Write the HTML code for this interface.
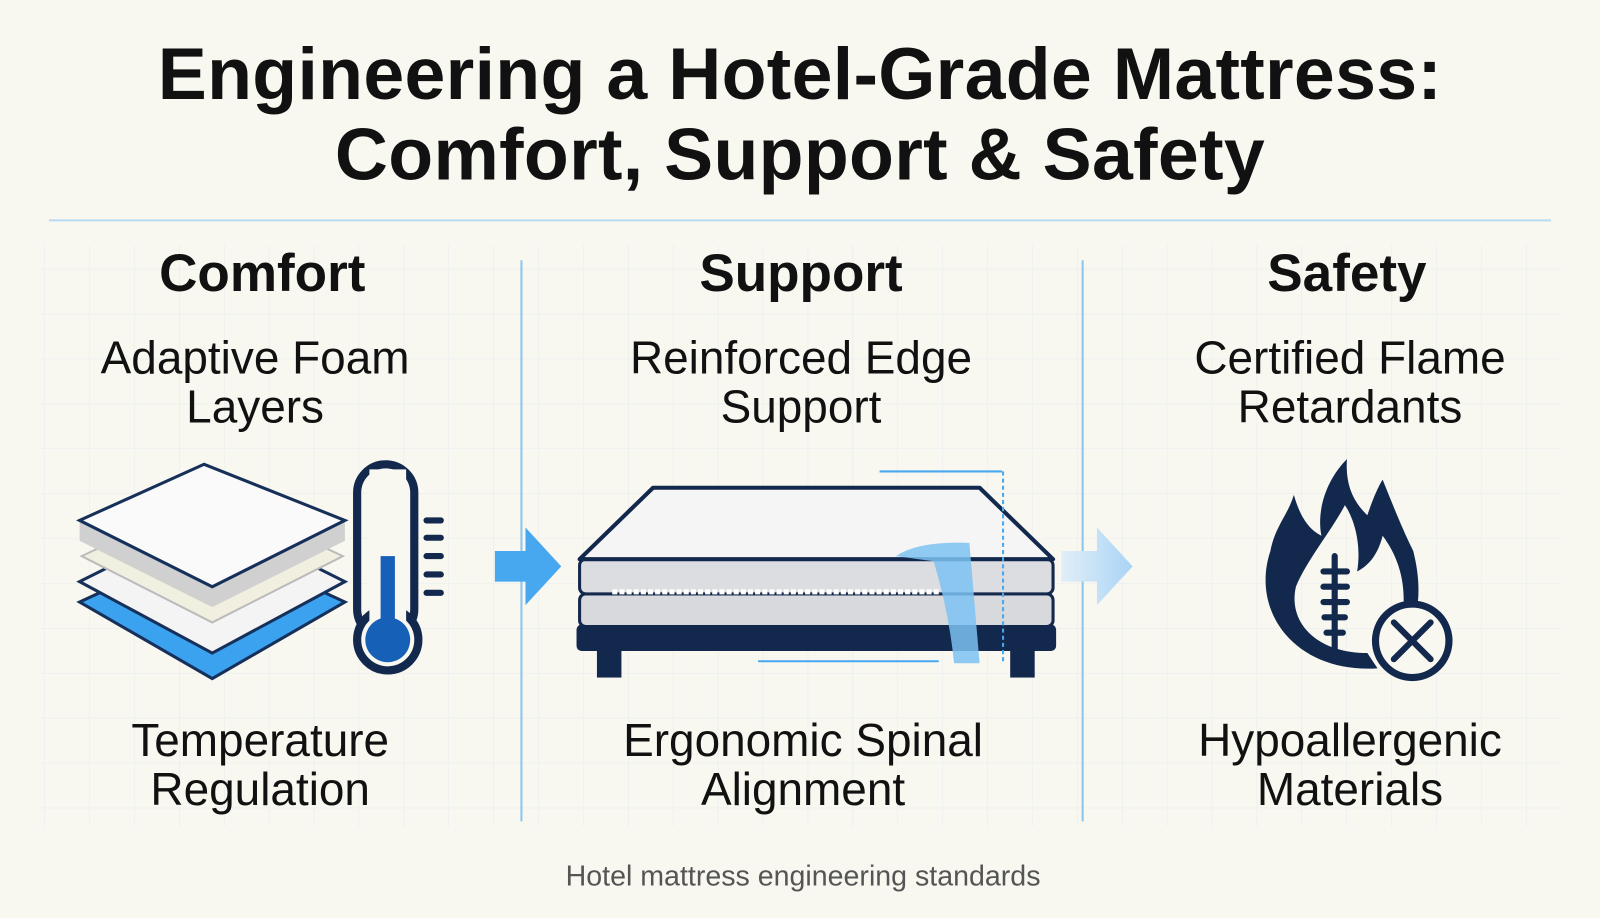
<!DOCTYPE html>
<html><head><style>
body{margin:0;width:1600px;height:900px;background:#f8f7f0;font-family:"Liberation Sans",sans-serif;color:#111;overflow:hidden;position:relative}
#w{position:absolute;left:0;top:0;width:1568px;height:882px;transform:scale(1.0204);transform-origin:0 0}
.t{position:absolute;left:0;width:1568px;text-align:center;font-weight:bold;font-size:72px;letter-spacing:0.3px;line-height:80px}
.c{position:absolute;text-align:center;width:500px}
.h{font-weight:bold;font-size:52px}
.s{font-size:45px;line-height:48px}
</style></head><body><div id="w">
<svg width="1600" height="900" style="position:absolute;left:0;top:0">
<defs><pattern id="g" width="44" height="44" patternUnits="userSpaceOnUse"><path d="M44 0V44H0" fill="none" stroke="#e6ecf0" stroke-width="1"/></pattern>
<linearGradient id="ag" x1="0" x2="1"><stop offset="0" stop-color="#e2eef8"/><stop offset="1" stop-color="#a9d4f5"/></linearGradient></defs>
<rect x="40" y="240" width="1490" height="570" fill="url(#g)"/>
<line x1="48" y1="216" x2="1520" y2="216" stroke="#b7daf2" stroke-width="2"/>
<line x1="511" y1="255" x2="511" y2="805" stroke="#8cc6ee" stroke-width="2"/>
<line x1="1061" y1="255" x2="1061" y2="805" stroke="#8cc6ee" stroke-width="2"/>
<polygon points="78,590 208,530 338,590 208,665" fill="#3aa2ef" stroke="#16305a" stroke-width="3"/>
<polygon points="78,570 208,505 338,570 208,640" fill="#f4f4f4" stroke="#16305a" stroke-width="3"/>
<polygon points="80,545 208,485 336,545 208,610" fill="#f1efe0" stroke="#bbb" stroke-width="2"/>
<polygon points="78,510 78,530 208,595 338,530 338,510 208,575" fill="#d0d0d0"/>
<polygon points="78,510 200,455 338,510 208,575" fill="#fafafa" stroke="#16305a" stroke-width="3"/>
<rect x="350" y="455" width="56" height="170" rx="28" fill="none" stroke="#13284d" stroke-width="8"/>
<circle cx="380" cy="627" r="30" fill="#f8f7f0" stroke="#13284d" stroke-width="8"/>
<rect x="362" y="460" width="36" height="160" fill="#f8f7f0"/>
<rect x="373" y="545" width="14" height="80" fill="#1660b8"/>
<circle cx="380" cy="627" r="22" fill="#1660b8"/>
<g stroke="#13284d" stroke-width="6" stroke-linecap="round"><line x1="418" y1="510" x2="432" y2="510"/><line x1="418" y1="527" x2="432" y2="527"/><line x1="418" y1="545" x2="432" y2="545"/><line x1="418" y1="563" x2="432" y2="563"/><line x1="418" y1="581" x2="432" y2="581"/></g>
<polygon points="485,540 515,540 515,517 550,555 515,593 515,570 485,570" fill="#47a7ef"/>
<polygon points="1040,540 1075,540 1075,517 1110,555 1075,593 1075,570 1040,570" fill="url(#ag)"/>
<rect x="585" y="636" width="24" height="28" fill="#13284d"/><rect x="990" y="636" width="24" height="28" fill="#13284d"/>
<rect x="565" y="612" width="470" height="26" rx="5" fill="#13284d"/>
<rect x="568" y="582" width="464" height="32" rx="6" fill="#d8d9dc" stroke="#13284d" stroke-width="3"/>
<rect x="568" y="548" width="464" height="34" rx="6" fill="#dcdde0" stroke="#13284d" stroke-width="3"/>
<line x1="600" y1="580" x2="920" y2="580" stroke="#fff" stroke-width="5" stroke-dasharray="5 2"/>
<polygon points="568,548 640,478 960,478 1032,548" fill="#f5f5f5" stroke="#13284d" stroke-width="4" stroke-linejoin="round"/>
<path d="M878,545 Q900,530 950,532 L960,650 L935,650 Q930,600 915,550 Z" fill="#7cc2f2" opacity="0.85"/>
<line x1="862" y1="462" x2="982" y2="462" stroke="#47a7ef" stroke-width="2"/>
<line x1="983" y1="462" x2="983" y2="650" stroke="#47a7ef" stroke-width="2" stroke-dasharray="4 3"/>
<line x1="743" y1="648" x2="920" y2="648" stroke="#47a7ef" stroke-width="2"/>
<path d="M1350,655 C1270,660 1225,600 1245,540 C1250,515 1262,505 1268,485 C1275,510 1285,520 1295,525 C1290,500 1300,470 1320,450 C1318,480 1330,495 1340,505 C1345,490 1350,478 1355,470 C1365,495 1375,520 1385,540 C1390,560 1392,580 1388,600 L1375,600 C1378,570 1370,545 1355,525 C1350,545 1340,555 1330,560 C1335,530 1325,505 1318,495 C1305,520 1280,550 1270,575 C1262,610 1290,640 1340,640 Z" fill="#13284d"/>
<g stroke="#13284d" stroke-width="6" stroke-linecap="round"><line x1="1297" y1="560" x2="1320" y2="560"/><line x1="1297" y1="575" x2="1320" y2="575"/><line x1="1297" y1="590" x2="1320" y2="590"/><line x1="1298" y1="605" x2="1318" y2="605"/><line x1="1300" y1="620" x2="1316" y2="620"/><line x1="1308" y1="545" x2="1308" y2="640"/></g>
<circle cx="1384" cy="628" r="36" fill="#f8f7f0" stroke="#13284d" stroke-width="7"/>
<g stroke="#13284d" stroke-width="6" stroke-linecap="round"><line x1="1366" y1="610" x2="1402" y2="646"/><line x1="1402" y1="610" x2="1366" y2="646"/></g>
</svg>
<div class="t" style="top:33px">Engineering a Hotel-Grade Mattress:</div>
<div class="t" style="top:112px">Comfort, Support &amp; Safety</div>
<div class="c h" style="left:7px;top:238px">Comfort</div>
<div class="c h" style="left:535px;top:238px">Support</div>
<div class="c h" style="left:1070px;top:238px">Safety</div>
<div class="c s" style="left:0;top:327px">Adaptive Foam<br>Layers</div>
<div class="c s" style="left:535px;top:327px">Reinforced Edge<br>Support</div>
<div class="c s" style="left:1073px;top:327px">Certified Flame<br>Retardants</div>
<div class="c s" style="left:5px;top:702px">Temperature<br>Regulation</div>
<div class="c s" style="left:537px;top:702px">Ergonomic Spinal<br>Alignment</div>
<div class="c s" style="left:1073px;top:702px">Hypoallergenic<br>Materials</div>
<div class="c" style="left:537px;top:843px;font-size:28px;color:#555">Hotel mattress engineering standards</div>
</div></body></html>
